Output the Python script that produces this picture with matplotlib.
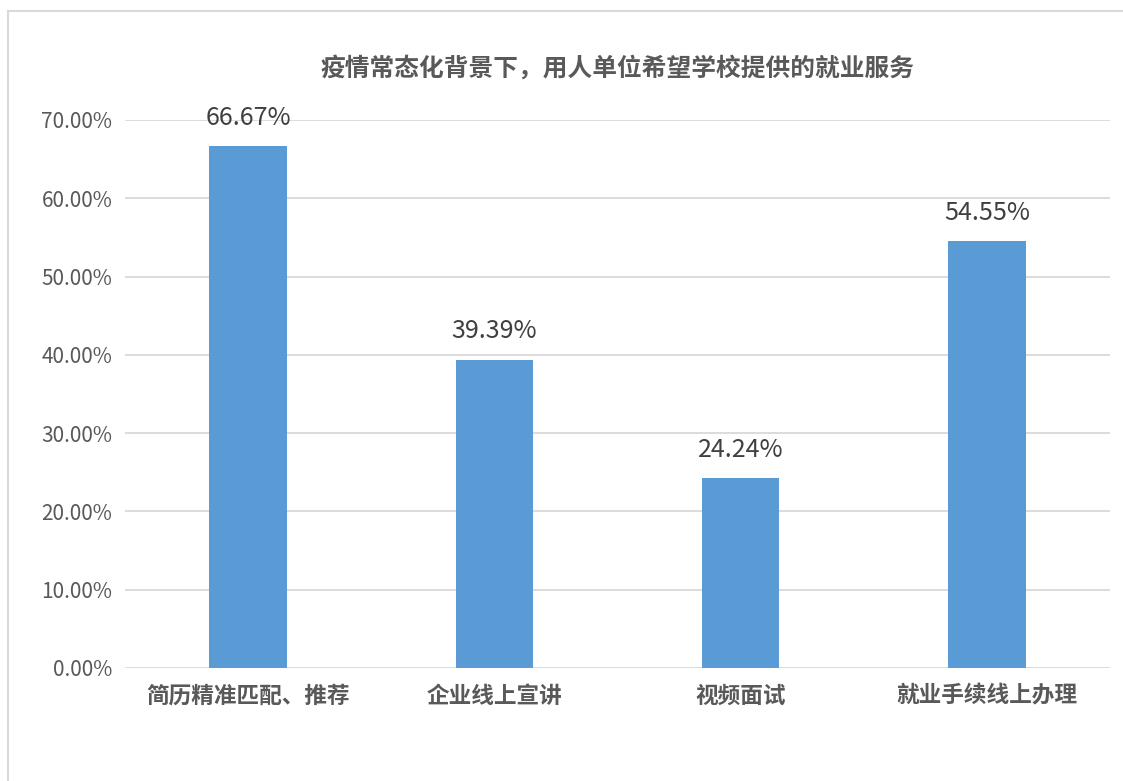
import matplotlib
matplotlib.use("Agg")
import matplotlib.pyplot as plt
from matplotlib.ticker import FuncFormatter
from matplotlib.patches import Rectangle

plt.rcParams['font.family'] = ['Noto Sans CJK SC', 'DejaVu Sans']

title = "疫情常态化背景下，用人单位希望学校提供的就业服务"
categories = ["简历精准匹配、推荐", "企业线上宣讲", "视频面试", "就业手续线上办理"]
values = [0.6667, 0.3939, 0.2424, 0.5455]
yticks = [0.0, 0.1, 0.2, 0.3, 0.4, 0.5, 0.6, 0.7]

fig = plt.figure(figsize=(11.23, 7.81), dpi=100)
fig.patch.set_facecolor('white')

# light frame around the chart area
fig.add_artist(Rectangle((8/1123, -0.05), 1.2, (781-11)/781 + 0.05,
                         transform=fig.transFigure, fill=False,
                         edgecolor='#D9D9D9', linewidth=1.5))

ax = fig.add_axes([125/1123, (781-668)/781, (1110-125)/1123, (668-120)/781])
x = list(range(len(categories)))
ax.bar(x, values, width=0.315, color='#5B9BD5', zorder=3)
ax.set_xlim(-0.5, len(categories) - 0.5)
ax.set_ylim(0, 0.7)
ax.set_yticks(yticks)
ax.yaxis.set_major_formatter(FuncFormatter(lambda v, p: f"{v*100:.2f}%"))
ax.grid(axis='y', color='#D9D9D9', linewidth=1.3, zorder=0)
for s in ax.spines.values():
    s.set_visible(False)
ax.tick_params(axis='both', length=0)
ax.tick_params(axis='y', labelsize=15, labelcolor='#595959', pad=9)
ax.set_xticks(x)
ax.set_xticklabels(categories, fontsize=16.3, fontweight='bold', color='#595959')
ax.tick_params(axis='x', pad=12)

for xi, v in zip(x, values):
    ax.annotate(f"{v*100:.2f}%", (xi, v), xytext=(0, 11), textcoords='offset points',
                ha='center', va='bottom', fontsize=18, color='#404040')

fig.text(617/1123, 1 - 68/781, title, ha='center', va='center',
         fontsize=17.8, fontweight='bold', color='#595959')

fig.savefig('out.png', dpi=100)
